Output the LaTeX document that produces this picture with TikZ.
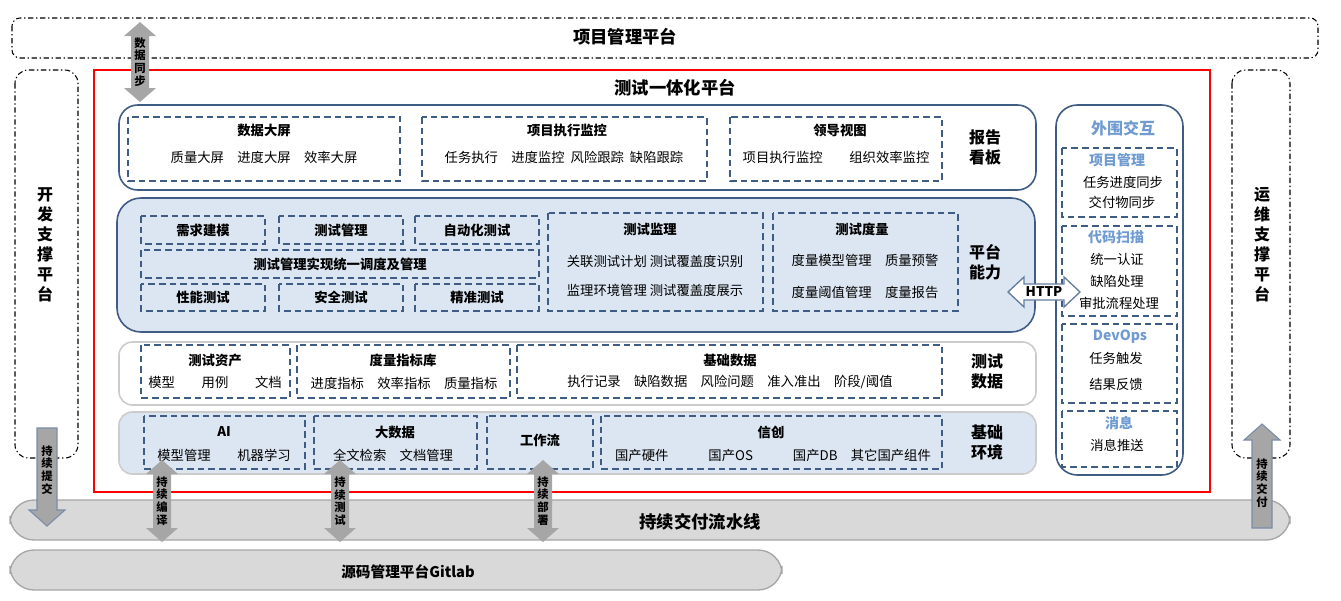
\documentclass[tikz,border=0pt]{standalone}
\usepackage{fontspec}
\setmainfont{Noto Sans CJK SC}
\usepackage{tikz}
\usetikzlibrary{positioning,calc,arrows.meta}
\definecolor{frame}{HTML}{3F5C85}
\definecolor{lightblue}{HTML}{DCE6F2}
\definecolor{titleblue}{HTML}{6F9BD1}
\definecolor{pipe}{HTML}{D9D9D9}
\definecolor{arrowgray}{HTML}{A6A6A6}
\tikzset{
  band/.style={draw=frame,line width=1.2pt,rounded corners=14pt},
  box/.style={draw=frame,line width=1.2pt,dash pattern=on 5pt off 3pt},
  outer/.style={draw=black,line width=0.8pt,dash pattern=on 4pt off 2pt on 1pt off 2pt,rounded corners=10pt},
  capsule/.style={draw=arrowgray,fill=pipe,line width=1pt,rounded corners=18pt},
  ttl/.style={font=\fontsize{10}{12}\selectfont\bfseries},
  itm/.style={font=\fontsize{10}{12}\selectfont},
  side/.style={font=\fontsize{12}{15}\selectfont\bfseries,align=center},
  vtext/.style={font=\fontsize{8.5}{9.5}\selectfont\bfseries,align=center,inner sep=0pt},
  blu/.style={font=\fontsize{10.5}{12}\selectfont\bfseries,text=titleblue},
}
% vertical double arrow: x, top, bottom, name
\newcommand*{\vdarrow}[4]{%
  \fill[arrowgray] (#1-9,#2+14) -- (#1-16,#2+14) -- (#1,#2) -- (#1+16,#2+14) -- (#1+9,#2+14)
    -- (#1+9,#3-14) -- (#1+16,#3-14) -- (#1,#3) -- (#1-16,#3-14) -- (#1-9,#3-14) -- cycle;
  \coordinate (#4) at (#1,{(#2+#3)/2});}
% vertical single arrow pointing down: x, top, bottom, name
\newcommand*{\vdownarrow}[4]{%
  \filldraw[fill=arrowgray,draw=frame!70,line width=0.8pt] (#1-10,#2) -- (#1+10,#2) -- (#1+10,#3-16) -- (#1+18,#3-16)
    -- (#1,#3) -- (#1-18,#3-16) -- (#1-10,#3-16) -- cycle;
  \coordinate (#4) at (#1,{(#2+#3-14)/2});}
\newcommand*{\vuparrow}[4]{%
  \filldraw[fill=arrowgray,draw=frame!70,line width=0.8pt] (#1-10,#3) -- (#1+10,#3) -- (#1+10,#2+16) -- (#1+18,#2+16)
    -- (#1,#2) -- (#1-18,#2+16) -- (#1-10,#2+16) -- cycle;
  \coordinate (#4) at (#1,{(#2+#3+14)/2});}

\begin{document}
\begin{tikzpicture}[x=0.75pt,y=-0.75pt]
\useasboundingbox (0,0) rectangle (1341,600);
% outer platforms
\draw[outer,rounded corners=6pt] (12,18) rectangle (1318,58);
\node[font=\fontsize{13}{15}\selectfont\bfseries] (pm) at (625,37) {项目管理平台};
\draw[outer] (15,70) rectangle (78,458);
\node[side] (dev) at (45,245) {开\\发\\支\\撑\\平\\台};
\draw[outer] (1232,70) rectangle (1290,458);
\node[side] (ops) at (1262,245) {运\\维\\支\\撑\\平\\台};
% main platform
\draw[red,line width=2pt] (94,70) rectangle (1210,492);
\node[font=\fontsize{13}{15}\selectfont\bfseries] (main) at (675,88) {测试一体化平台};

% 报告看板
\draw[band,fill=white] (119,105) rectangle (1036,190);
\draw[box] (128,117) rectangle (400,181);
\node[ttl] at (264,130) {数据大屏};
\node[itm] at (264,157) {质量大屏\quad 进度大屏\quad 效率大屏};
\draw[box] (422,117) rectangle (707,181);
\node[ttl] at (567,130) {项目执行监控};
\node[itm] at (564,157) {任务执行\quad 进度监控\ \ 风险跟踪\ \ 缺陷跟踪};
\draw[box] (730,117) rectangle (942,181);
\node[ttl] at (840,130) {领导视图};
\node[itm] at (836,157) {项目执行监控\qquad 组织效率监控};
\node[side] at (985,147) {报告\\看板};

% 平台能力
\draw[band,fill=lightblue,rounded corners=18pt] (117,198) rectangle (1035,332);
\draw[box] (141,216) rectangle (265,244);
\node[ttl] at (203,230) {需求建模};
\draw[box] (279,216) rectangle (403,244);
\node[ttl] at (341,230) {测试管理};
\draw[box] (415,216) rectangle (539,244);
\node[ttl] at (477,230) {自动化测试};
\draw[box] (141,250) rectangle (539,278);
\node[ttl] at (340,264) {测试管理实现统一调度及管理};
\draw[box] (141,284) rectangle (265,311);
\node[ttl] at (203,297) {性能测试};
\draw[box] (279,284) rectangle (403,311);
\node[ttl] at (341,297) {安全测试};
\draw[box] (415,284) rectangle (539,311);
\node[ttl] at (477,297) {精准测试};
\draw[box] (548,213) rectangle (763,311);
\node[ttl] at (650,229) {测试监理};
\node[itm] at (655,261) {关联测试计划\ 测试覆盖度识别};
\node[itm] at (655,290) {监理环境管理\ 测试覆盖度展示};
\draw[box] (773,213) rectangle (958,311);
\node[ttl] at (862,229) {测试度量};
\node[itm] at (865,260) {度量模型管理\quad 质量预警};
\node[itm] at (865,292) {度量阈值管理\quad 度量报告};
\node[side] at (985,262) {平台\\能力};

% 测试数据
\draw[band,draw=gray!40,fill=white,rounded corners=10pt] (119,342) rectangle (1036,405);
\draw[box] (141,345) rectangle (290,398);
\node[ttl] at (215,360) {测试资产};
\node[itm] at (215,382) {模型\qquad 用例\qquad 文档};
\draw[box] (297,345) rectangle (510,398);
\node[ttl] at (403,360) {度量指标库};
\node[itm] at (404,383) {进度指标\quad 效率指标\quad 质量指标};
\draw[box] (517,345) rectangle (942,398);
\node[ttl] at (730,360) {基础数据};
\node[itm] at (730,382) {执行记录\quad 缺陷数据\quad 风险问题\quad 准入准出\quad 阶段/阈值};
\node[side] at (987,372) {测试\\数据};

% 基础环境
\draw[band,draw=gray!40,fill=lightblue,rounded corners=10pt] (119,412) rectangle (1036,474);
\draw[box] (144,416) rectangle (305,469);
\node[ttl] at (224,432) {AI};
\node[itm] at (224,455) {模型管理\qquad 机器学习};
\draw[box] (314,416) rectangle (477,469);
\node[ttl] at (395,432) {大数据};
\node[itm] at (393,455) {全文检索\quad 文档管理};
\draw[box] (487,416) rectangle (593,469);
\node[ttl] at (540,440) {工作流};
\draw[box] (601,416) rectangle (942,469);
\node[ttl] at (771,432) {信创};
\node[itm] at (773,455) {国产硬件\qquad\quad 国产OS\qquad\quad 国产DB\quad 其它国产组件};
\node[side] at (987,442) {基础\\环境};

% 外围交互
\draw[band,rounded corners=16pt] (1056,105) rectangle (1183,475);
\node[blu,font=\fontsize{12}{14}\selectfont\bfseries] at (1123,128) {外围交互};
\draw[box] (1062,148) rectangle (1177,217);
\node[blu] at (1117,160) {项目管理};
\node[itm] at (1123,182) {任务进度同步};
\node[itm] at (1122,202) {交付物同步};
\draw[box] (1062,226) rectangle (1177,316);
\node[blu] at (1116,237) {代码扫描};
\node[itm] at (1117,259) {统一认证};
\node[itm] at (1117,281) {缺陷处理};
\node[itm] at (1119,303) {审批流程处理};
\draw[box] (1062,324) rectangle (1177,403);
\node[blu] at (1120,337) {DevOps};
\node[itm] at (1116,358) {任务触发};
\node[itm] at (1116,384) {结果反馈};
\draw[box] (1062,411) rectangle (1177,467);
\node[blu] at (1119,423) {消息};
\node[itm] at (1117,445) {消息推送};

% HTTP arrow
\filldraw[fill=white,draw=frame!80,line width=1pt]
  (1008,292) -- (1024,277) -- (1024,284) -- (1064,284) -- (1064,277) -- (1080,292)
  -- (1064,307) -- (1064,300) -- (1024,300) -- (1024,307) -- cycle;
\node[font=\fontsize{10}{12}\selectfont\bfseries] (http) at (1044,292) {HTTP};

% pipelines
\draw[capsule] (10,500) rectangle (1290,540);
\node[font=\fontsize{13}{15}\selectfont\bfseries] (cd) at (700,522) {持续交付流水线};
\draw[capsule] (10,550) rectangle (782,590);
\node[font=\fontsize{11}{13}\selectfont\bfseries] (git) at (408,572) {源码管理平台Gitlab};

% arrows
\vdarrow{140}{22}{102}{sync}
\node[vtext] at (sync) {数\\据\\同\\步};
\vdarrow{162}{460}{542}{build}
\node[vtext] at (build) {持\\续\\编\\译};
\vdarrow{340}{460}{542}{test}
\node[vtext] at (test) {持\\续\\测\\试};
\vdarrow{543}{460}{542}{deploy}
\node[vtext] at (deploy) {持\\续\\部\\署};
\vdownarrow{47}{428}{526}{commit}
\node[vtext] at (commit) {持\\续\\提\\交};
\vuparrow{1262}{424}{528}{deliver}
\node[vtext] at (deliver) {持\\续\\交\\付};
\end{tikzpicture}
\end{document}
